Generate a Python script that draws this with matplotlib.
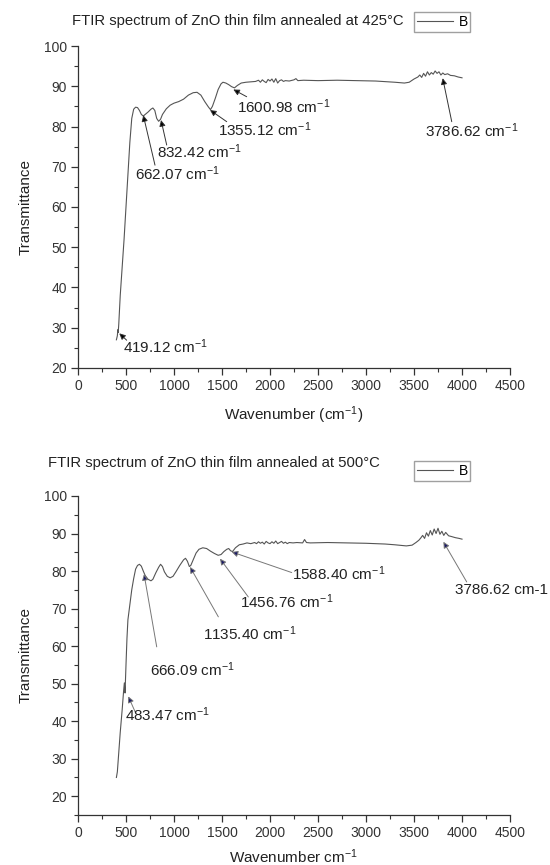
import matplotlib
matplotlib.use("Agg")
import matplotlib.pyplot as plt
from matplotlib.ticker import MultipleLocator

plt.rcParams["font.family"] = ["Liberation Sans", "DejaVu Sans"]
plt.rcParams["mathtext.fontset"] = "custom"
plt.rcParams["mathtext.rm"] = "Liberation Sans"
plt.rcParams["mathtext.it"] = "Liberation Sans:italic"

# --------------------------------------------------------------
# DATA - spektrum FTIR
# --------------------------------------------------------------
wn_425 = [400, 410, 415, 419, 425, 440, 460, 480, 500, 520, 540, 560, 580, 600,
          620, 640, 660, 680, 700, 730, 760, 780, 800, 820, 840, 860, 880, 920,
          960, 1000, 1050, 1100, 1150, 1200, 1240, 1280, 1320, 1360, 1380, 1400,
          1430, 1460, 1490, 1510, 1540, 1570, 1600, 1630, 1660, 1700, 1750, 1800,
          1850, 1880, 1900, 1920, 1940, 1960, 1980, 2000, 2020, 2040, 2060, 2080,
          2100, 2120, 2140, 2160, 2200, 2250, 2270, 2290, 2350, 2500, 2700, 2900,
          3100, 3300, 3400, 3450, 3500, 3540, 3560, 3580, 3600, 3620, 3640, 3660,
          3680, 3700, 3720, 3740, 3760, 3780, 3800, 3820, 3850, 3880, 3920, 3960,
          4000]
tr_425 = [27.0, 28.0, 29.5, 28.8, 31.0, 38.0, 45.0, 52.0, 60.0, 68.0, 76.0, 82.0,
          84.3, 84.8, 84.7, 84.0, 83.0, 82.6, 83.0, 83.6, 84.3, 84.6, 84.0, 82.0,
          81.3, 81.8, 83.0, 84.4, 85.3, 85.8, 86.2, 86.8, 87.8, 88.4, 88.5, 87.8,
          86.2, 84.8, 84.2, 85.0, 87.0, 89.2, 90.6, 91.0, 90.8, 90.4, 89.9, 89.6,
          90.2, 90.8, 91.0, 91.1, 91.2, 91.5, 91.0, 91.6, 91.2, 90.9, 91.7, 91.3,
          91.8, 91.0, 91.9, 90.8, 91.4, 91.6, 91.2, 91.4, 91.3, 91.6, 91.9, 91.4,
          91.5, 91.4, 91.5, 91.4, 91.3, 91.0, 90.8, 91.0, 91.8, 92.3, 92.8, 92.2,
          93.2, 92.5, 93.6, 92.8, 93.4, 93.0, 93.8, 93.2, 93.6, 92.8, 93.3, 92.9,
          93.1, 92.7, 92.6, 92.3, 92.1]

wn_500 = [400, 410, 420, 440, 460, 475, 483, 490, 500, 510, 520, 540, 560, 580,
          600, 620, 640, 660, 680, 700, 730, 760, 780, 810, 840, 860, 880, 900,
          930, 960, 990, 1020, 1060, 1100, 1120, 1140, 1160, 1175, 1200, 1230,
          1260, 1300, 1340, 1380, 1420, 1460, 1490, 1520, 1550, 1570, 1590, 1610,
          1640, 1680, 1720, 1760, 1800, 1840, 1860, 1880, 1900, 1920, 1940, 1960,
          1980, 2000, 2020, 2040, 2060, 2080, 2100, 2120, 2140, 2160, 2180, 2200,
          2240, 2280, 2340, 2360, 2380, 2420, 2600, 2800, 3000, 3200, 3300, 3420,
          3480, 3520, 3550, 3570, 3590, 3610, 3630, 3650, 3670, 3690, 3710, 3730,
          3750, 3770, 3790, 3810, 3830, 3860, 3890, 3930, 3970, 4000]
tr_500 = [25.0, 26.5, 30.0, 37.0, 43.0, 48.0, 50.2, 47.5, 55.0, 62.0, 67.0, 71.0,
          75.0, 78.0, 80.5, 81.5, 81.8, 81.3, 80.0, 78.8, 77.8, 77.4, 77.8, 79.5,
          81.0, 81.8, 81.2, 79.8, 78.6, 78.2, 78.6, 79.8, 81.5, 83.0, 83.4, 82.6,
          81.2, 81.5, 83.0, 84.8, 85.8, 86.2, 86.0, 85.3, 84.7, 84.2, 84.4, 85.2,
          85.8, 86.0, 85.4, 85.2, 86.2, 87.0, 87.2, 87.5, 87.3, 87.6, 87.3, 87.8,
          87.4, 87.7, 87.2, 87.9, 87.5, 87.3, 87.8, 87.4, 88.0, 87.3, 87.6, 87.9,
          87.4, 87.7, 87.3, 87.6, 87.5, 87.6, 87.5, 88.4, 87.6, 87.5, 87.6, 87.5,
          87.4, 87.2, 87.0, 86.7, 86.9, 87.6, 88.2, 88.8, 89.5, 88.7, 90.2, 89.3,
          90.8, 89.6, 91.2, 90.0, 91.4, 89.8, 90.6, 89.5, 90.3, 89.4, 89.2, 88.9,
          88.7, 88.5]

# label puncak: teks, ujung panah, pangkal panah, posisi teks
labels_425 = ["419.12 cm$^{-1}$", "662.07 cm$^{-1}$", "832.42 cm$^{-1}$",
              "1355.12 cm$^{-1}$", "1600.98 cm$^{-1}$", "3786.62 cm$^{-1}$"]
heads_425 = [(430, 28.6), (680, 82.8), (865, 81.6), (1375, 84.1), (1618, 89.2), (3799, 92.0)]
tails_425 = [(507, 26.9), (802, 70.4), (924, 75.4), (1549, 81.2), (1757, 87.4), (3893, 81.2)]
text_425 = [(472, 25.2), (594, 68.3), (820, 73.7), (1462, 79.1), (1653, 84.9), (3615, 78.9)]

labels_500 = ["483.47 cm$^{-1}$", "666.09 cm$^{-1}$", "1135.40 cm$^{-1}$",
              "1456.76 cm$^{-1}$", "1588.40 cm$^{-1}$", "3786.62 cm-1"]
heads_500 = [(524, 46.6), (688, 79.2), (1167, 81.1), (1479, 83.3), (1601, 85.1), (3806, 87.8)]
tails_500 = [(595, 42.5), (820, 59.8), (1462, 67.8), (1774, 73.1), (2226, 79.6), (4049, 77.1)]
text_500 = [(490, 41.6), (750, 53.6), (1305, 63.4), (1688, 71.8), (2226, 79.4), (3927, 74.9)]


def gambar_panel(ax, wn, tr, ymin, labels, heads, tails, texts, head_color, line_color):
    ax.plot(wn, tr, color="#555555", linewidth=0.8, label="B")
    ax.set_xlim(0, 4500)
    ax.set_ylim(ymin, 100)
    ax.xaxis.set_major_locator(MultipleLocator(500))
    ax.xaxis.set_minor_locator(MultipleLocator(250))
    ax.yaxis.set_major_locator(MultipleLocator(10))
    ax.yaxis.set_minor_locator(MultipleLocator(5))
    ax.spines["top"].set_visible(False)
    ax.spines["right"].set_visible(False)
    for s in ["left", "bottom"]:
        ax.spines[s].set_color("#333333")
        ax.spines[s].set_linewidth(0.9)
    ax.tick_params(which="major", direction="out", length=5, width=0.9,
                   labelsize=10, colors="#333333", pad=3)
    ax.tick_params(which="minor", direction="out", length=3, width=0.8, colors="#333333")
    for lab, h, t, p in zip(labels, heads, tails, texts):
        ax.annotate("", xy=h, xytext=t,
                    arrowprops=dict(arrowstyle="-|>", edgecolor=line_color,
                                    facecolor=head_color, lw=0.7,
                                    mutation_scale=9, shrinkA=0, shrinkB=0),
                    annotation_clip=False)
        ax.text(p[0], p[1], lab, fontsize=11, ha="left", va="center",
                color="#222222", clip_on=False)
    ax.set_ylabel("Transmittance", fontsize=11, color="#222222", labelpad=8)


fig = plt.figure(figsize=(5.5, 8.65), dpi=100)

ax1 = fig.add_axes([0.1418, 0.5746, 0.7855, 0.3722])
gambar_panel(ax1, wn_425, tr_425, 20, labels_425, heads_425, tails_425, text_425,
             "black", "#333333")
ax1.set_xlabel("Wavenumber (cm$^{-1}$)", fontsize=11, color="#222222", labelpad=8)
fig.text(72 / 550, 1 - 21 / 865, "FTIR spectrum of ZnO thin film annealed at 425°C",
         fontsize=10.7, ha="left", va="center", color="#222222")
ax1.legend(loc="upper left", bbox_to_anchor=(414 / 550, 1 - 12 / 865),
           bbox_transform=fig.transFigure, fontsize=10, frameon=True,
           fancybox=False, edgecolor="#888888", handlelength=2.6,
           borderpad=0.2, handletextpad=0.4, borderaxespad=0)

ax2 = fig.add_axes([0.1418, 0.0578, 0.7855, 0.3688])
gambar_panel(ax2, wn_500, tr_500, 15, labels_500, heads_500, tails_500, text_500,
             "#1a1a66", "#777777")
ax2.set_xlabel("Wavenumber cm$^{-1}$", fontsize=11, color="#222222", labelpad=5)
fig.text(48 / 550, 1 - 463 / 865, "FTIR spectrum of ZnO thin film annealed at 500°C",
         fontsize=10.7, ha="left", va="center", color="#222222")
ax2.legend(loc="upper left", bbox_to_anchor=(414 / 550, 1 - 461 / 865),
           bbox_transform=fig.transFigure, fontsize=10, frameon=True,
           fancybox=False, edgecolor="#888888", handlelength=2.6,
           borderpad=0.2, handletextpad=0.4, borderaxespad=0)

fig.savefig("out.png", dpi=100)
